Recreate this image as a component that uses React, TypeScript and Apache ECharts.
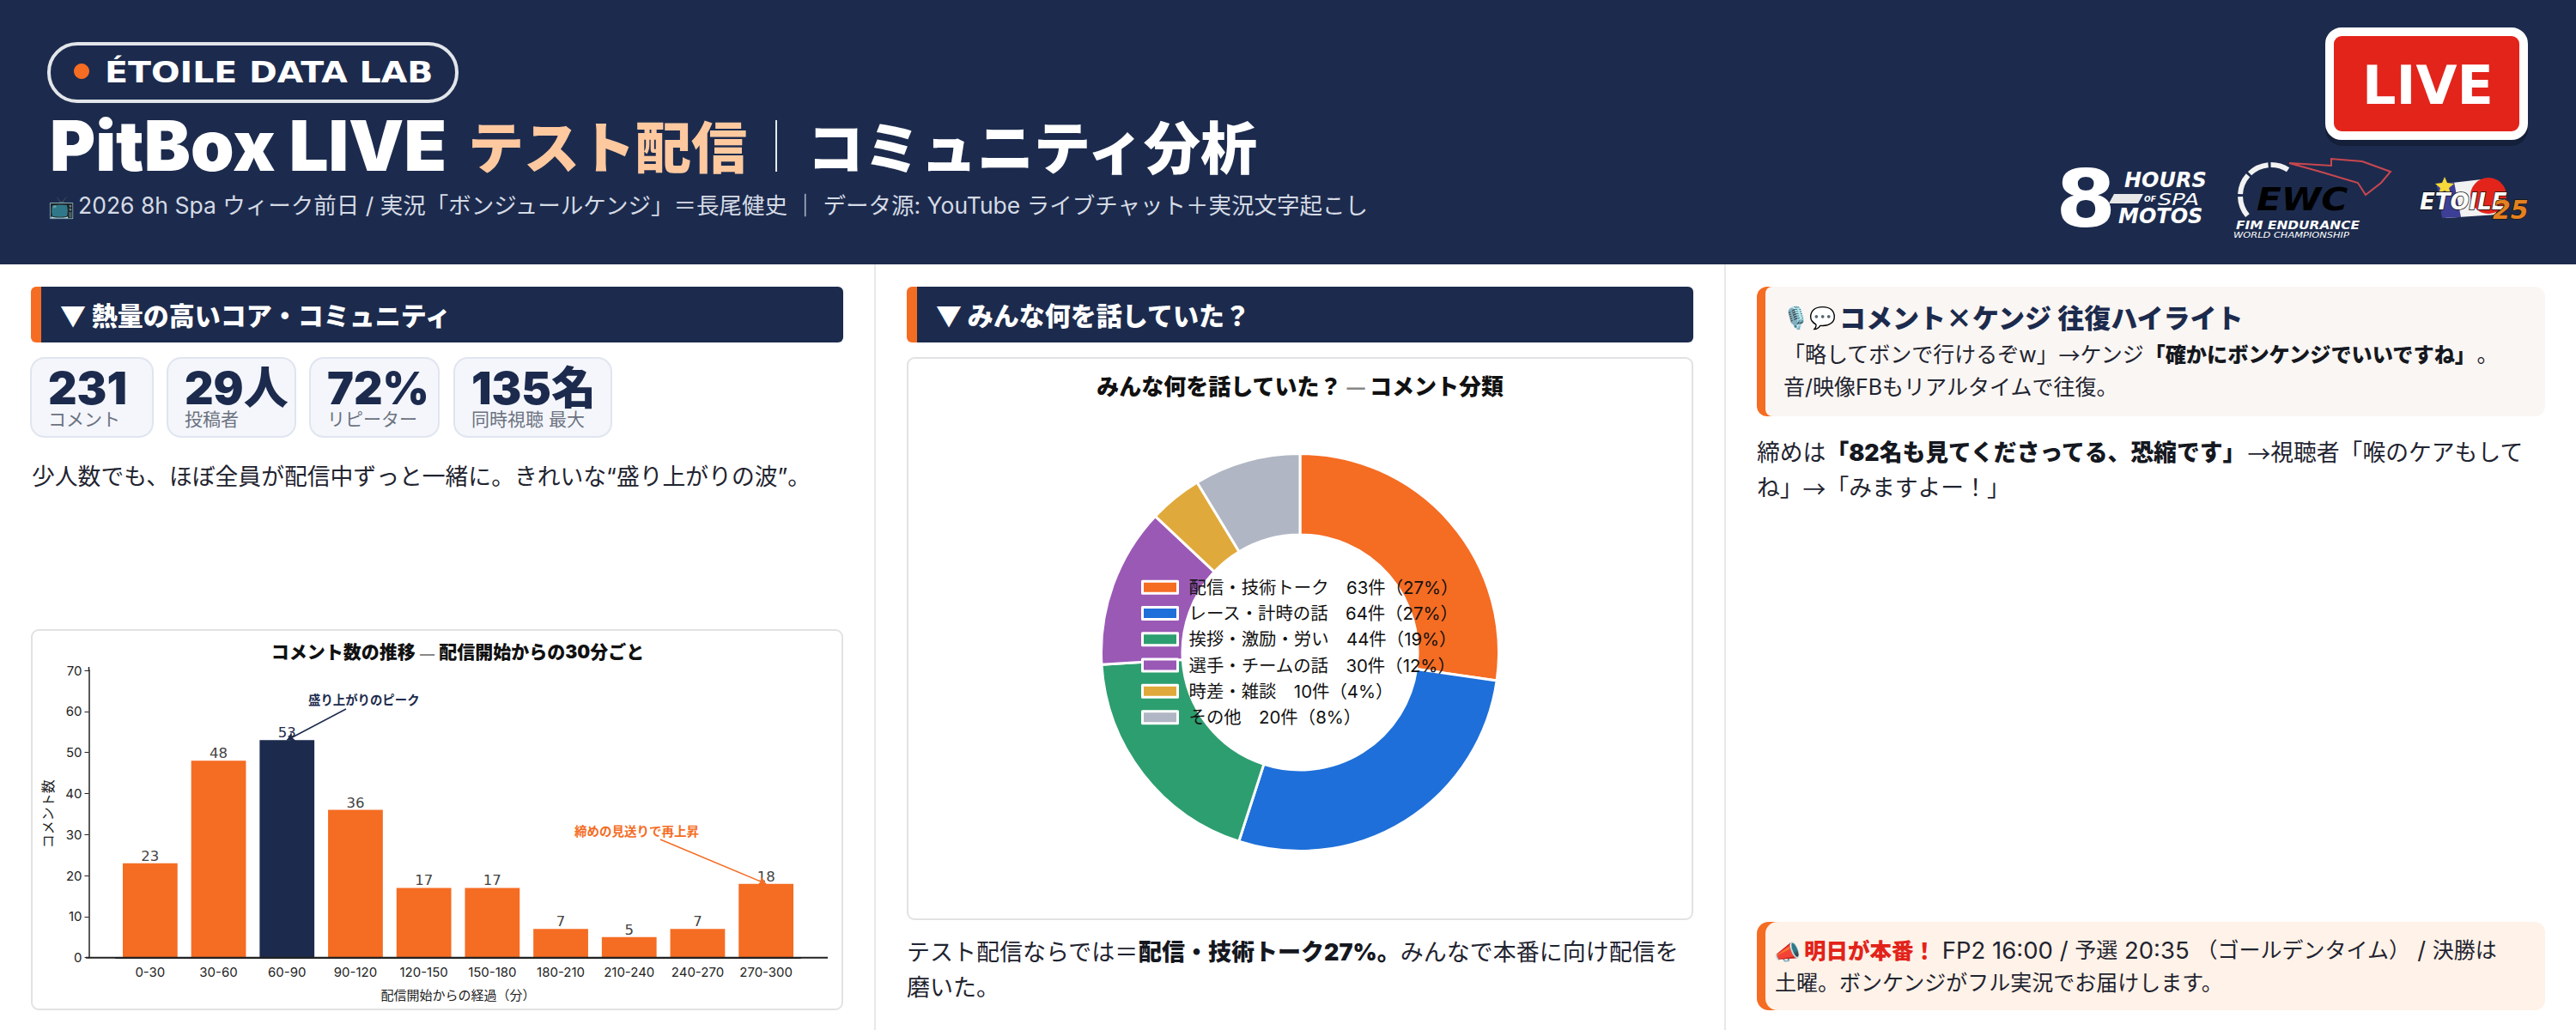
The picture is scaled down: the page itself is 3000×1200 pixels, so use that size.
import React, { useEffect, useRef } from 'react';
import * as echarts from 'echarts';

const timeBuckets = ['0-30', '30-60', '60-90', '90-120', '120-150', '150-180', '180-210', '210-240', '240-270', '270-300'];
const commentCounts = [23, 48, 53, 36, 17, 17, 7, 5, 7, 18];
const peakIndex = 2;

const topicNames = ['配信・技術トーク', 'レース・計時の話', '挨拶・激励・労い', '選手・チームの話', '時差・雑談', 'その他'];
const topicCounts = [63, 64, 44, 30, 10, 20];
const topicShares = [27, 27, 19, 12, 4, 8];
const topicColors = ['#f56c23', '#1e6fd9', '#2d9e6f', '#9b59b6', '#e0a93b', '#b0b6c3'];

const statValues = ['231', '29人', '72%', '135名'];
const statLabels = ['コメント', '投稿者', 'リピーター', '同時視聴 最大'];

const NAVY = '#1c2b4d';
const ORANGE = '#f56c23';
const JP = '"Noto Sans CJK JP", "Noto Sans", sans-serif';
const REG = '"Inter", "Noto Sans CJK JP", sans-serif';
const LOGO = '"DejaVu Sans", sans-serif';

const text = (t: string, x: number, y: number, size: number, fill: string, weight: any = 'normal', family: string = REG) => ({
  type: 'text',
  z: 20,
  style: {
    text: t, x, y, fontSize: size, fontFamily: family, fontWeight: weight, fill,
    align: 'left', verticalAlign: 'middle', textAlign: 'left', textVerticalAlign: 'middle',
  },
});

// logo lettering: stretched sideways, oblique unless told otherwise
const logoText = (t: string, x: number, y: number, size: number, scaleX: number, fill: any, extra: any = {}) => ({
  type: 'text',
  z: 20,
  x, y, scaleX,
  style: {
    text: t, x: 0, y: 0, fontSize: size, fontFamily: LOGO, fontWeight: 'bold', fontStyle: 'italic', fill,
    align: 'left', verticalAlign: 'middle', ...extra,
  },
});

const rich = (t: string, x: number, y: number, styles: any) => ({
  type: 'text',
  z: 20,
  style: { text: t, x, y, rich: styles, align: 'left', verticalAlign: 'middle', textAlign: 'left', textVerticalAlign: 'middle' },
});

const rect = (x: number, y: number, width: number, height: number, r: any, style: any, z = 1) => ({
  type: 'rect', z, shape: { x, y, width, height, r }, style,
});

const sectionBar = (x: number, w: number, title: string) => [
  rect(x, 334, 40, 65, 6, { fill: ORANGE }),
  rect(x + 12, 334, w - 12, 65, [0, 6, 6, 0], { fill: NAVY }, 2),
  text(title, x + 34, 366, 30, '#ffffff', 900, JP),
];

const plain = (size: number, fill = '#1f2430') => ({ fontSize: size, fontFamily: REG, fill });
const arrow = (size: number, fill = '#1f2430') => ({ fontSize: size, fontFamily: JP, fill });
const bold = (size: number, fill = '#15181f') => ({ fontSize: size, fontFamily: REG, fill, fontWeight: 900 });

const statX = [36, 195, 361, 529];
const statW = [142, 149, 150, 183];

const buildGraphic = (): any[] => [
  // header band
  rect(0, 0, 3000, 308, 0, { fill: NAVY }, 0),
  rect(57, 51, 475, 67, 33, { fill: 'none', stroke: '#e2e5ea', lineWidth: 4 }),
  { type: 'circle', z: 3, shape: { cx: 95, cy: 83, r: 9 }, style: { fill: ORANGE } },
  logoText('ÉTOILE DATA LAB', 122, 84, 34, 1.162, '#ffffff', { fontStyle: 'normal' }),
  text('PitBox LIVE', 58, 170, 81, '#ffffff', 900),
  text('テスト配信', 545, 168, 65, '#ffc9a0', 900, JP),
  { type: 'line', z: 3, shape: { x1: 904, y1: 140, x2: 904, y2: 200 }, style: { stroke: '#e6e9ef', lineWidth: 2 } },
  text('コミュニティ分析', 940, 168, 66, '#ffffff', 900, JP),
  text('📺', 56, 239, 25, '#d5dae5', 'normal', JP),
  text('2026 8h Spa ウィーク前日 / 実況「ボンジュールケンジ」＝長尾健史 ｜ データ源: YouTube ライブチャット＋実況文字起こし', 91, 239, 26.5, '#d5dae5'),

  // LIVE badge
  rect(2708, 38, 236, 132, 20, { fill: '#141f3a' }, 2),
  rect(2713, 37, 226, 121, 14, { fill: '#e3241b', stroke: '#ffffff', lineWidth: 10 }, 3),
  logoText('LIVE', 2751, 99, 62, 1, '#ffffff', { fontStyle: 'normal' }),

  // 8 hours logo
  logoText('8', 2394, 232, 92, 1.1, '#ffffff', { fontStyle: 'normal' }),
  logoText('HOURS', 2474, 210, 24, 1, '#ffffff'),
  logoText('OF', 2497, 232, 9, 1, '#ffffff'),
  logoText('SPA', 2513, 232, 19, 1.35, '#ffffff', { fontWeight: 'normal' }),
  logoText('MOTOS', 2467, 252, 24, 1, '#ffffff'),
  { type: 'polygon', z: 21, shape: { points: [[2462, 226], [2496, 226], [2490, 237], [2456, 237]] }, style: { fill: '#e8e8e8' } },

  // EWC logo
  {
    type: 'arc', z: 3,
    shape: { cx: 2645, cy: 228, r: 36, startAngle: (140 * Math.PI) / 180, endAngle: (303 * Math.PI) / 180, clockwise: true },
    style: { stroke: '#f2f2f2', lineWidth: 6, fill: 'none', lineDash: [24, 3] },
  },
  {
    type: 'polyline', z: 3,
    shape: { points: [[2666, 190], [2715, 193], [2715, 185], [2751, 188], [2784, 200], [2773, 213], [2755, 227], [2746, 213], [2702, 200], [2666, 190]] },
    style: { stroke: '#c9474f', lineWidth: 2, fill: 'none' },
  },
  logoText('EWC', 2628, 232, 38, 1.11, new echarts.graphic.LinearGradient(0, 0, 0, 1, [
    { offset: 0, color: '#7a3b56' },
    { offset: 0.6, color: '#e2585b' },
    { offset: 1, color: '#e85c5c' },
  ])),
  logoText('FIM ENDURANCE', 2604, 262, 14, 1.1, '#ffffff'),
  logoText('WORLD CHAMPIONSHIP', 2601, 273, 9.5, 1.2, '#ffffff', { fontWeight: 'normal' }),

  // Etoile logo
  { type: 'polygon', z: 3, shape: { points: [[2838, 215], [2890, 209], [2908, 250], [2848, 254]] }, style: { fill: '#f2f2f2' } },
  { type: 'polygon', z: 3, shape: { points: [[2838, 215], [2858, 212], [2866, 253], [2844, 254]] }, style: { fill: '#3d3f96' } },
  { type: 'circle', z: 4, shape: { cx: 2898, cy: 228, r: 21 }, style: { fill: '#e3241b' } },
  { type: 'polygon', z: 5, shape: { points: [[2847, 206], [2850, 213], [2858, 214], [2852, 219], [2854, 226], [2847, 222], [2840, 226], [2842, 219], [2836, 214], [2844, 213]] }, style: { fill: '#f7d93a' } },
  logoText('ETOILE', 2818, 235, 26, 1, '#ffffff', { stroke: '#111111', lineWidth: 1.5 }),
  logoText('25', 2903, 244, 30, 1, '#e4811f', { stroke: '#151515', lineWidth: 1.5 }),

  // column rules
  { type: 'line', z: 1, shape: { x1: 1019, y1: 308, x2: 1019, y2: 1200 }, style: { stroke: '#e8e8ea', lineWidth: 2 } },
  { type: 'line', z: 1, shape: { x1: 2009, y1: 308, x2: 2009, y2: 1200 }, style: { stroke: '#e8e8ea', lineWidth: 2 } },

  // left column
  ...sectionBar(36, 946, '▼ 熱量の高いコア・コミュニティ'),
  ...statValues.flatMap((v, i) => [
    rect(statX[i], 417, statW[i], 92, 16, { fill: '#f4f6fb', stroke: '#e0e5ef', lineWidth: 2 }),
    text(v, statX[i] + 20, 452, 52, NAVY, 900),
    text(statLabels[i], statX[i] + 20, 488, 21, '#6b7280'),
  ]),
  text('少人数でも、ほぼ全員が配信中ずっと一緒に。きれいな“盛り上がりの波”。', 37, 555, 26.8, '#1f2430'),
  rect(37, 734, 944, 442, 8, { fill: '#ffffff', stroke: '#e2e2e4', lineWidth: 2 }),
  { type: 'line', z: 5, shape: { x1: 100, y1: 1115.7, x2: 964, y2: 1115.7 }, style: { stroke: '#222222', lineWidth: 2 } },
  { type: 'line', z: 5, shape: { x1: 103.5, y1: 777, x2: 103.5, y2: 782 }, style: { stroke: '#222222', lineWidth: 1.5 } },
  text('盛り上がりのピーク', 359, 814, 14.4, NAVY, 'bold', JP),
  text('締めの見送りで再上昇', 669, 967, 14.5, ORANGE, 'bold', JP),

  // middle column
  ...sectionBar(1056, 916, '▼ みんな何を話していた？'),
  rect(1057, 417, 914, 654, 8, { fill: '#ffffff', stroke: '#e2e2e4', lineWidth: 2 }),
  rich('{n|テスト配信ならでは＝}{b|配信・技術トーク27%。}{n|みんなで本番に向け配信を}', 1056, 1109, { n: plain(27), b: bold(27) }),
  text('磨いた。', 1056, 1150, 27, '#1f2430'),

  // right column
  rect(2046, 334, 60, 151, 12, { fill: ORANGE }),
  rect(2056, 334, 908, 151, [8, 12, 12, 8], { fill: '#faf6f3' }, 2),
  text('🎙️💬', 2076, 368, 25, NAVY, 'normal', JP),
  text('コメント×ケンジ 往復ハイライト', 2142, 368, 31, NAVY, 900, JP),
  rich('{n|「略してボンで行けるぞw」}{a|→}{n|ケンジ}{b|「確かにボンケンジでいいですね」}{n|。}', 2077, 413, { n: plain(25), a: arrow(25), b: bold(24.2) }),
  text('音/映像FBもリアルタイムで往復。', 2077, 451, 25, '#1f2430'),
  rich('{n|締めは}{b|「82名も見てくださってる、恐縮です」}{a|→}{n|視聴者「喉のケアもして}', 2046, 527, { n: plain(26.8), a: arrow(26.8), b: bold(26.8) }),
  rich('{n|ね」}{a|→}{n|「みますよー！」}', 2046, 568, { n: plain(26.8), a: arrow(26.8) }),

  rect(2046, 1074, 60, 103, 14, { fill: ORANGE }),
  rect(2056, 1074, 908, 103, [14, 12, 12, 14], { fill: '#fff2e8' }, 2),
  text('📣', 2066, 1107, 25, '#c89a20', 'normal', JP),
  rich('{r|明日が本番！}{l| FP2 16:00 / }{n|予選}{l| 20:35 }{n|（ゴールデンタイム）}{l| / }{n|決勝は}', 2101, 1107, { n: plain(25), l: plain(27.5), r: bold(25.5, '#e2231a') }),
  text('土曜。ボンケンジがフル実況でお届けします。', 2067, 1145, 25, '#1f2430'),
];

const App: React.FC = () => {
  const chartRef = useRef<HTMLDivElement>(null);

  useEffect(() => {
    document.body.style.margin = '0';
    const chart = echarts.init(chartRef.current!, undefined, { renderer: 'svg' });

    chart.setOption({
      animation: false,
      backgroundColor: '#ffffff',
      textStyle: { fontFamily: REG },
      title: [
        {
          text: '{b|コメント数の推移} {d|—} {b|配信開始からの30分ごと}',
          left: 533, top: 749, textAlign: 'center', padding: 0,
          textStyle: {
            rich: {
              b: { fontSize: 21, fontWeight: 900, color: '#111111', fontFamily: REG },
              d: { fontSize: 21, color: '#888888', fontFamily: JP },
            },
          },
        },
        {
          text: '{b|みんな何を話していた？} {d|—} {b|コメント分類}',
          left: 1514, top: 435, textAlign: 'center', padding: 0,
          textStyle: {
            rich: {
              b: { fontSize: 26, fontWeight: 900, color: '#111111', fontFamily: JP },
              d: { fontSize: 26, color: '#888888', fontFamily: JP },
            },
          },
        },
      ],
      grid: { left: 135, top: 781, width: 797, height: 334.7 },
      xAxis: {
        type: 'category',
        data: timeBuckets,
        z: 6,
        name: '配信開始からの経過（分）',
        nameLocation: 'middle',
        nameGap: 36,
        nameTextStyle: { fontSize: 15, color: '#222222' },
        axisLine: { lineStyle: { color: '#222222', width: 2 } },
        axisTick: { alignWithLabel: true, length: 5, lineStyle: { color: '#222222' } },
        axisLabel: { interval: 0, fontSize: 15, color: '#222222', margin: 9 },
      },
      yAxis: {
        type: 'value',
        min: 0,
        max: 70,
        interval: 10,
        offset: 31.5,
        z: 6,
        name: 'コメント数',
        nameLocation: 'middle',
        nameGap: 40,
        nameTextStyle: { fontSize: 16, color: '#222222' },
        splitLine: { show: false },
        axisLine: { show: true, lineStyle: { color: '#222222', width: 1.5 } },
        axisTick: { show: true, length: 5, lineStyle: { color: '#222222' } },
        axisLabel: { fontSize: 15, color: '#222222', margin: 8 },
      },
      legend: {
        orient: 'vertical',
        left: 1329,
        top: 674,
        padding: 0,
        icon: 'rect',
        itemWidth: 41,
        itemHeight: 14,
        itemGap: 9.9,
        itemStyle: { borderColor: '#ffffff', borderWidth: 3 },
        textStyle: { fontSize: 20.4, lineHeight: 20, color: '#111111', padding: [0, 0, 0, 8] },
        data: topicNames,
        selectedMode: false,
        formatter: (name: string) => {
          const i = topicNames.indexOf(name);
          return `${name}　${topicCounts[i]}件（${topicShares[i]}%）`;
        },
      },
      series: [
        {
          type: 'bar',
          barWidth: '80%',
          data: commentCounts.map((v, i) =>
            i === peakIndex
              ? { value: v, itemStyle: { color: NAVY, borderColor: NAVY, borderWidth: 2 }, label: { color: NAVY } }
              : v,
          ),
          itemStyle: { color: ORANGE },
          label: { show: true, position: 'top', distance: 0, fontSize: 16.5, fontFamily: LOGO, color: '#444444', fontWeight: 'normal' },
          markLine: {
            silent: true,
            symbol: ['none', 'arrow'],
            symbolSize: 9,
            label: { show: false },
            data: [
              [
                { x: 403, y: 826, lineStyle: { color: NAVY, width: 1.5, type: 'solid' } },
                { coord: [timeBuckets[peakIndex], commentCounts[peakIndex]] },
              ],
              [
                { x: 769, y: 978, lineStyle: { color: ORANGE, width: 1.5, type: 'solid' } },
                { coord: [timeBuckets[9], commentCounts[9]] },
              ],
            ],
          },
        },
        {
          type: 'pie',
          center: [1514, 760],
          radius: [137, 231.5],
          startAngle: 90,
          silent: true,
          label: { show: false },
          labelLine: { show: false },
          itemStyle: { borderColor: '#ffffff', borderWidth: 3 },
          data: topicNames.map((name, i) => ({
            name,
            value: topicCounts[i],
            itemStyle: { color: topicColors[i] },
          })),
        },
      ],
      graphic: { elements: buildGraphic() },
    });

    return () => {
      chart.dispose();
    };
  }, []);

  return <div ref={chartRef} style={{ width: 3000, height: 1200 }}></div>;
};

export default App;
